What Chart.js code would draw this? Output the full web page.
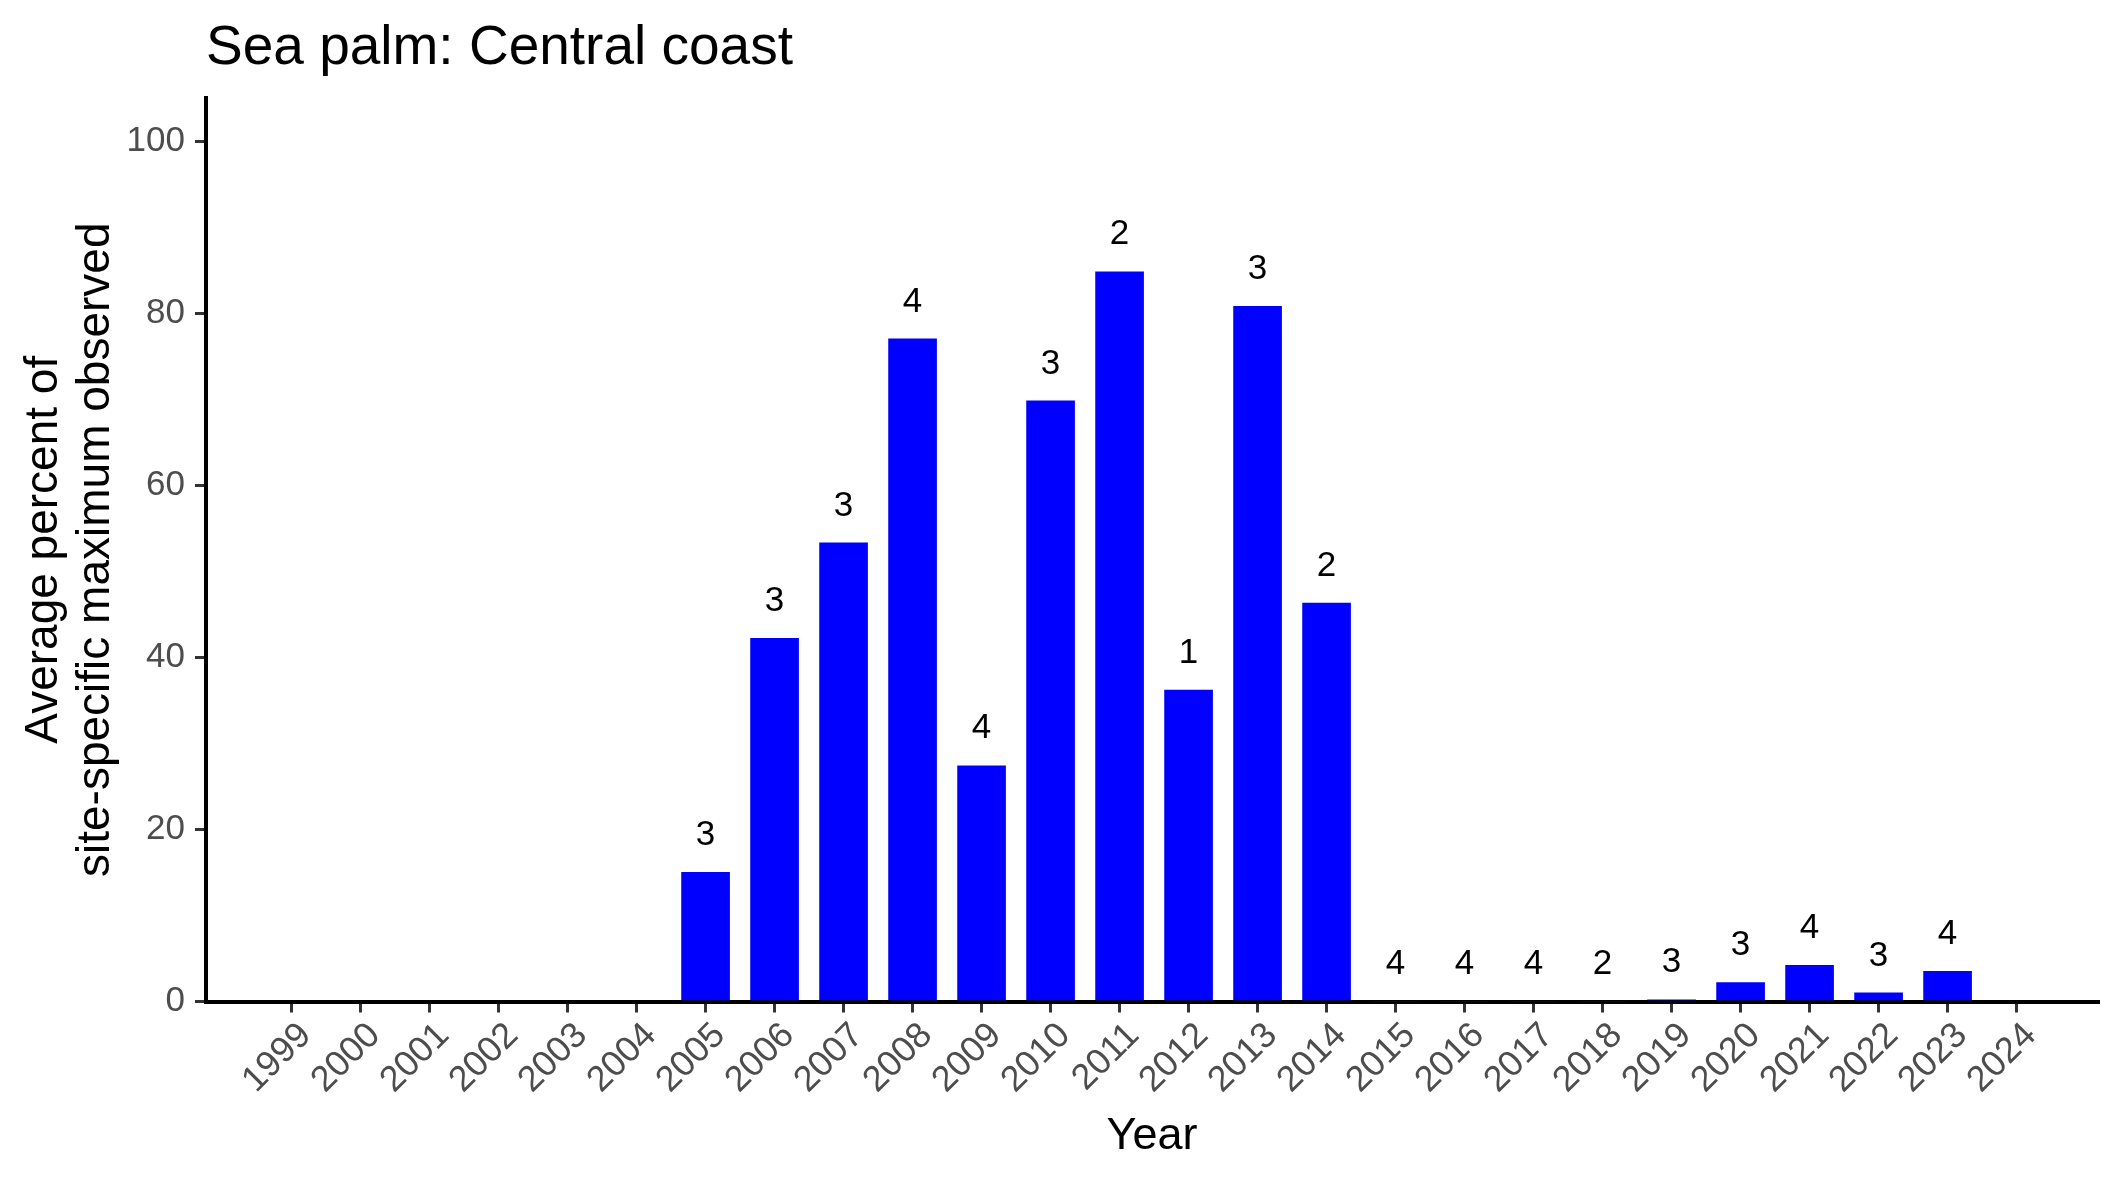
<!DOCTYPE html>
<html>
<head>
<meta charset="utf-8">
<script src="https://cdn.jsdelivr.net/npm/chart.js@4.4.1/dist/chart.umd.min.js"></script>
<style>
  html, body { margin: 0; padding: 0; background: #fff; }
  #wrap { width: 2125px; height: 1181px; }
</style>
</head>
<body>
<div id="wrap"><canvas id="chart" width="2125" height="1181"></canvas></div>
<script>
// Years on the x axis
const tickYears = [1999, 2000, 2001, 2002, 2003, 2004, 2005, 2006, 2007, 2008, 2009, 2010, 2011,
  2012, 2013, 2014, 2015, 2016, 2017, 2018, 2019, 2020, 2021, 2022, 2023, 2024];
const yTicks = [0, 20, 40, 60, 80, 100];

// Surveyed years, their average percent and number of sites
const years = [2005, 2006, 2007, 2008, 2009, 2010, 2011, 2012, 2013, 2014,
  2015, 2016, 2017, 2018, 2019, 2020, 2021, 2022, 2023];
const avgPercent = [15.0, 42.2, 53.3, 77.0, 27.4, 69.8, 84.8, 36.2, 80.8, 46.3,
  0, 0, 0, 0, 0.2, 2.2, 4.2, 1.0, 3.5];
const siteCounts = [3, 3, 3, 4, 4, 3, 2, 1, 3, 2, 4, 4, 4, 2, 3, 3, 4, 3, 4];

const FONT = '"Liberation Sans", Arial, Helvetica, sans-serif';
Chart.defaults.font.family = FONT;

// Title, axis titles and site counts above bars
const textPlugin = {
  id: 'textPlugin',
  afterDraw(chart) {
    const { ctx, chartArea } = chart;
    ctx.save();
    ctx.fillStyle = '#000';

    // site counts
    const meta = chart.getDatasetMeta(0);
    ctx.font = '35px ' + FONT;
    ctx.textAlign = 'center';
    ctx.textBaseline = 'middle';
    meta.data.forEach((bar, i) => {
      ctx.fillText(String(siteCounts[i]), bar.x, bar.y - 37);
    });

    // chart title
    ctx.font = '55px ' + FONT;
    ctx.textAlign = 'left';
    ctx.textBaseline = 'alphabetic';
    ctx.fillText('Sea palm: Central coast', chartArea.left, 64);

    // x axis title
    ctx.font = '45px ' + FONT;
    ctx.textAlign = 'center';
    ctx.fillText('Year', (chartArea.left + chartArea.right) / 2, 1149);

    // y axis title (two lines)
    ctx.font = '46px ' + FONT;
    const cy = (chartArea.top + chartArea.bottom) / 2;
    ctx.translate(57, cy);
    ctx.rotate(-Math.PI / 2);
    ctx.fillText('Average percent of', 0, 0);
    ctx.fillText('site-specific maximum observed', 0, 52);
    ctx.restore();
  }
};

const ctx = document.getElementById('chart').getContext('2d');
const chart = new Chart(ctx, {
  type: 'bar',
  data: {
    datasets: [{
      data: years.map((y, i) => ({ x: y, y: avgPercent[i] })),
      backgroundColor: '#0000ff',
      borderWidth: 0,
      barThickness: 48
    }]
  },
  options: {
    responsive: false,
    animation: false,
    devicePixelRatio: 1,
    layout: { padding: { top: 98, right: 27, left: 0, bottom: 0 } },
    plugins: {
      legend: { display: false },
      tooltip: { enabled: false }
    },
    scales: {
      x: {
        type: 'linear',
        min: 1997.76,
        max: 2025.18,
        offset: false,
        z: 1,
        afterBuildTicks: (scale) => { scale.ticks = tickYears.map(v => ({ value: v })); },
        afterFit: (scale) => { scale.height = 179.5; },
        ticks: {
          minRotation: 45,
          maxRotation: 45,
          autoSkip: false,
          color: '#4d4d4d',
          font: { size: 36 },
          padding: 2,
          labelOffset: 14,
          callback: (v) => String(v)
        },
        grid: { drawOnChartArea: false, drawTicks: true, tickLength: 11, color: '#333333', lineWidth: 3, offset: false },
        border: { display: true, color: '#000000', width: 4 }
      },
      y: {
        min: 0,
        max: 105,
        z: 1,
        afterBuildTicks: (scale) => { scale.ticks = yTicks.map(v => ({ value: v })); },
        afterFit: (scale) => { scale.width = 206; },
        ticks: {
          color: '#4d4d4d',
          font: { size: 35 },
          padding: 10
        },
        grid: { drawOnChartArea: false, drawTicks: true, tickLength: 11, color: '#333333', lineWidth: 3 },
        border: { display: true, color: '#000000', width: 4 }
      }
    }
  },
  plugins: [textPlugin]
});
</script>
</body>
</html>
